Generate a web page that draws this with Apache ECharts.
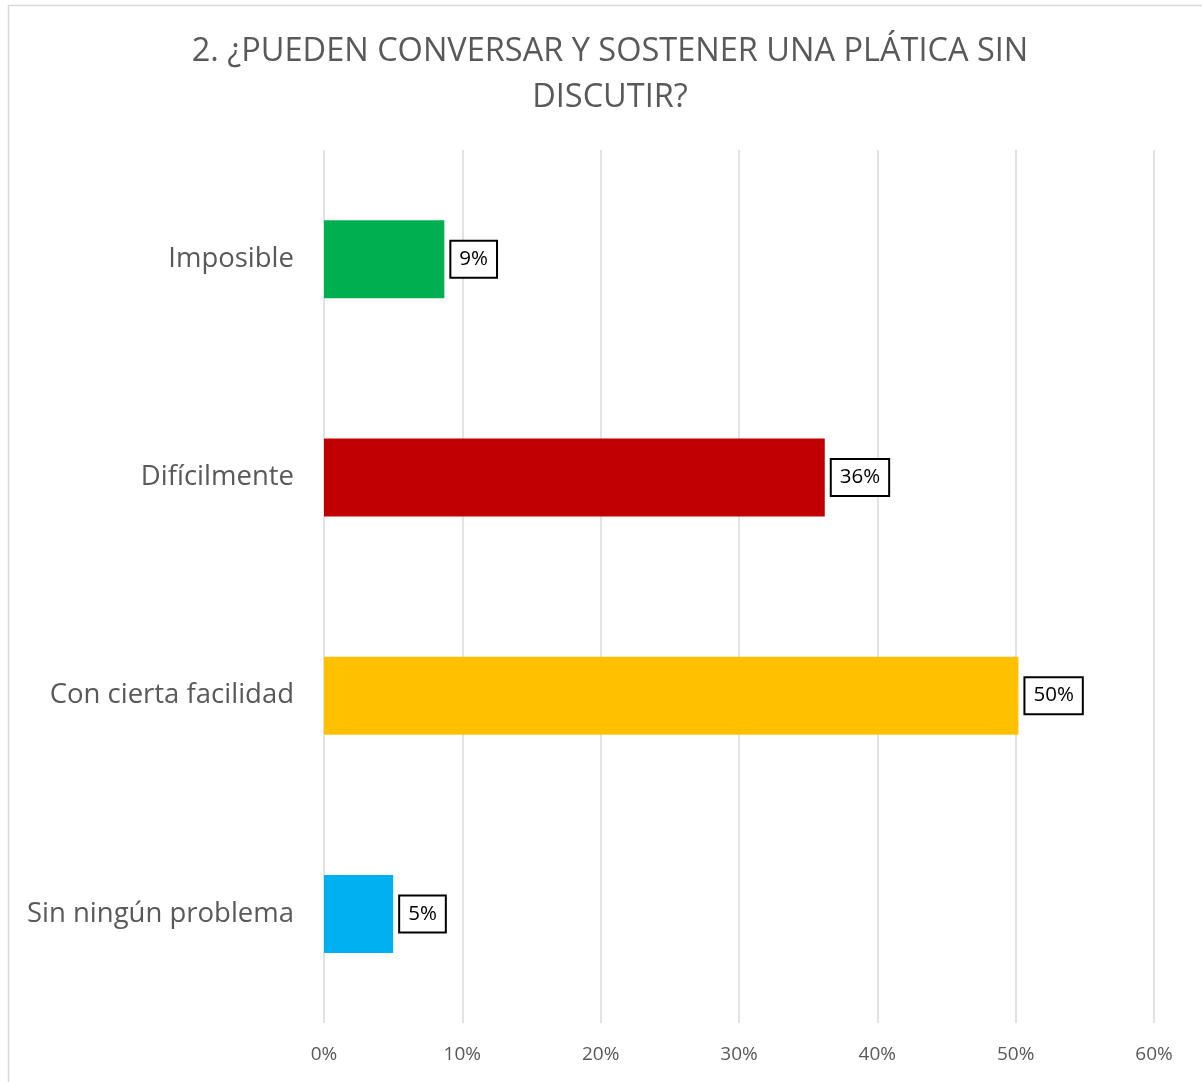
<!DOCTYPE html>
<html>
<head>
<meta charset="utf-8">
<script src="https://cdn.jsdelivr.net/npm/echarts@6/dist/echarts.min.js"></script>
<style>
  html, body { margin: 0; padding: 0; background: #fff; }
  #chart { width: 1202px; height: 1082px; }
</style>
</head>
<body>
<div id="chart"></div>
<script>
// Survey question 2 - horizontal bars
var categories = ["Imposible", "Difícilmente", "Con cierta facilidad", "Sin ningún problema"];
var values = [0.087, 0.362, 0.502, 0.05];
var barColors = ["#00b050", "#c00000", "#ffc000", "#00b0f0"];
var xTicks = [0, 0.1, 0.2, 0.3, 0.4, 0.5, 0.6];

var dom = document.getElementById("chart");
var myChart = echarts.init(dom);

var font = "'Open Sans', 'Noto Sans', sans-serif";

var option = {
  backgroundColor: "#fff",
  animation: false,
  title: {
    text: "2. ¿PUEDEN CONVERSAR Y SOSTENER UNA PLÁTICA SIN\nDISCUTIR?",
    left: 605,
    textAlign: "center",
    top: 24,
    textStyle: {
      fontFamily: font,
      fontSize: 32.5,
      fontWeight: "normal",
      color: "#595959",
      lineHeight: 46,
    },
  },
  graphic: [
    {
      type: "rect",
      shape: { x: 8.5, y: 5.5, width: 1210, height: 1090 },
      style: { fill: "none", stroke: "#d9d9d9", lineWidth: 1.5 },
      silent: true,
    },
  ],
  grid: {
    left: 324,
    right: 48,
    top: 150,
    bottom: 59,
  },
  xAxis: {
    type: "value",
    min: xTicks[0],
    max: xTicks[xTicks.length - 1],
    interval: 0.1,
    axisLine: { show: false },
    axisTick: { show: false },
    splitLine: { show: true, lineStyle: { color: "#d9d9d9", width: 1.5 } },
    axisLabel: {
      margin: 22,
      fontFamily: font,
      fontSize: 19,
      color: "#595959",
      formatter: function (v) {
        return Math.round(v * 100) + "%";
      },
    },
  },
  yAxis: {
    type: "category",
    inverse: true,
    data: categories,
    axisLine: { show: false },
    axisTick: { show: false },
    axisLabel: {
      margin: 30,
      fontFamily: font,
      fontSize: 27.5,
      color: "#595959",
    },
  },
  series: [
    {
      type: "bar",
      barWidth: 78,
      data: values.map(function (v, i) {
        return { value: v, itemStyle: { color: barColors[i] } };
      }),
      label: {
        show: true,
        position: "right",
        distance: 7,
        fontFamily: font,
        fontSize: 20.5,
        color: "#000",
        borderColor: "#000",
        borderWidth: 2,
        padding: [8, 8, 6, 8],
        backgroundColor: "#fff",
        formatter: function (p) {
          return Math.round(p.value * 100) + "%";
        },
      },
    },
  ],
};

if (option && typeof option === "object") {
  myChart.setOption(option);
}
</script>
</body>
</html>
